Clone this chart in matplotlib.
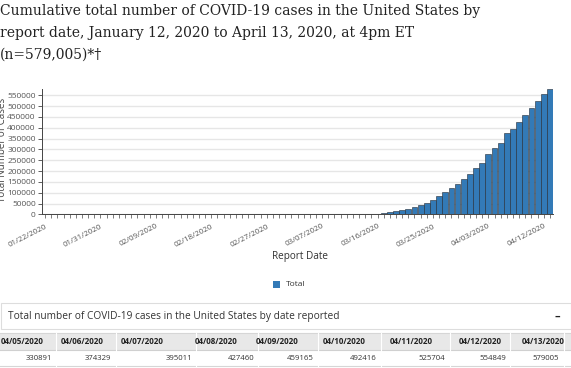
import matplotlib
matplotlib.use("Agg")
import matplotlib.pyplot as plt
from matplotlib.patches import Rectangle
from matplotlib.lines import Line2D
import datetime as dt

W, H = 571, 368

# ---------------- data ----------------
start = dt.date(2020, 1, 22)
cases = [1, 1, 2, 2, 5, 5, 5, 5, 6, 7,          # 01/22 - 01/31
         8, 11, 11, 11, 12, 12, 12, 12, 12, 12,  # 02/01 - 02/10
         13, 13, 14, 14, 14, 14, 14, 14, 14, 14, # 02/11 - 02/20
         35, 35, 35, 53, 53, 59, 60, 62, 68,     # 02/21 - 02/29
         75, 100, 124, 158, 221, 319, 435, 541, 704, 994,   # 03/01 - 03/10
         1301, 1630, 2183, 2726, 3487, 4226, 7038, 10442, 15219, 19624,  # 03/11 - 03/20
         26747, 33404, 44183, 54453, 68440, 85356, 103321, 122653, 140904, 163539,  # 03/21 - 03/30
         186101, 213144, 239279, 277205, 304826,     # 03/31 - 04/04
         330891, 374329, 395011, 427460, 459165, 492416, 525704, 554849, 579005]  # 04/05 - 04/13
dates = [(start + dt.timedelta(days=i)).strftime("%m/%d/%Y") for i in range(len(cases))]
yticks = list(range(0, 550001, 50000))
label_every = 9

table_dates = ["04/05/2020", "04/06/2020", "04/07/2020", "04/08/2020", "04/09/2020",
               "04/10/2020", "04/11/2020", "04/12/2020", "04/13/2020"]
table_values = [330891, 374329, 395011, 427460, 459165, 492416, 525704, 554849, 579005]

title = ("Cumulative total number of COVID-19 cases in the United States by\n"
         "report date, January 12, 2020 to April 13, 2020, at 4pm ET\n"
         "(n=579,005)*\u2020")

# ---------------- figure ----------------
fig = plt.figure(figsize=(W / 100, H / 100), dpi=100)
fig.patch.set_facecolor("white")

def fx(x):
    return x / W

def fy(y):
    return 1 - y / H

sans = ["Open Sans", "DejaVu Sans"]

fig.text(fx(0), fy(3.5), title, ha="left", va="top", family=["DejaVu Serif"],
         fontsize=10.0, color="#222222", linespacing=1.75)

# axes
left, right, top, bottom = 42, 553, 89, 214.5
ax = fig.add_axes([fx(left), fy(bottom), fx(right - left), (bottom - top) / H])
x = list(range(len(cases)))
ax.bar(x, cases, width=0.94, color="#337ab7", edgecolor="#222a33", linewidth=0.4, zorder=3)
ax.set_xlim(-0.5, len(cases) - 0.5)
ax.set_ylim(0, max(cases))
ax.set_yticks(yticks)
ax.set_yticklabels([str(v) for v in yticks], fontsize=6, color="#555555", family=sans)
ax.set_xticks(x, minor=True)
major = x[::label_every]
ax.set_xticks(major)
ax.set_xticklabels([dates[i] for i in major], rotation=27, ha="right", rotation_mode="anchor",
                   fontsize=5.8, color="#555555", family=sans)
ax.tick_params(axis="x", which="both", length=3, width=0.6, color="#666666", pad=3)
ax.tick_params(axis="y", length=3, width=0.6, color="#444444", pad=1.5)
ax.grid(axis="y", color="#e6e6e6", linewidth=1.0, zorder=0)
for s in ["top", "right"]:
    ax.spines[s].set_visible(False)
ax.spines["left"].set_color("#444444")
ax.spines["bottom"].set_color("#444444")
ax.spines["left"].set_linewidth(0.7)
ax.spines["bottom"].set_linewidth(0.7)
ax.set_facecolor("white")

# y label (partially clipped at the left edge, as in the reference)
fig.text(fx(3), fy(150), "Total Number of Cases", rotation=90, ha="center", va="center",
         fontsize=7, color="#444444", family=sans)

# x label
fig.text(fx(300), fy(257), "Report Date", ha="center", va="center", fontsize=7.2,
         color="#333333", family=sans)

# legend
fig.patches.append(Rectangle((fx(273), fy(287.5)), fx(7), 7 / H, transform=fig.transFigure,
                             facecolor="#337ab7", edgecolor="none"))
fig.text(fx(286), fy(284), "Total", ha="left", va="center", fontsize=6, color="#333333",
         family=sans)

# panel header box
fig.patches.append(Rectangle((fx(0.5), fy(329)), fx(W - 1), 26 / H, transform=fig.transFigure,
                             facecolor="white", edgecolor="#dddddd", linewidth=0.8))
fig.text(fx(8), fy(316), "Total number of COVID-19 cases in the United States by date reported",
         ha="left", va="center", fontsize=7.3, color="#333333", family=sans)
fig.text(fx(557), fy(316), "\u2013", ha="center", va="center", fontsize=8, color="#222222",
         family=sans, fontweight="bold")

# table
fig.patches.append(Rectangle((0, fy(350)), 1, 17 / H, transform=fig.transFigure,
                             facecolor="#e8e8e8", edgecolor="none"))
for yy, c in [(333, "#d6d6d6"), (350, "#d0d0d0"), (366, "#d6d6d6")]:
    fig.lines.append(Line2D([0, 1], [fy(yy), fy(yy)], transform=fig.transFigure,
                            color=c, linewidth=0.8))
head_cx = [22, 82, 142.5, 216, 277.5, 344, 411, 480.5, 543]
val_rx = [52, 111.5, 192, 254, 314, 376.5, 445.5, 506, 559]
col_b = [56, 116, 196, 258, 318, 381, 450, 510, 564]
for b in col_b:
    fig.lines.append(Line2D([fx(b), fx(b)], [fy(366), fy(333)], transform=fig.transFigure,
                            color="#ffffff", linewidth=0.8))
for cx, d in zip(head_cx, table_dates):
    fig.text(fx(cx), fy(341.5), d, ha="center", va="center", fontsize=5.8, color="#222222",
             family=sans, fontweight="bold")
for rx, v in zip(val_rx, table_values):
    fig.text(fx(rx), fy(358), str(v), ha="right", va="center", fontsize=5.6, color="#333333",
             family=sans)

fig.savefig("out.png", dpi=100)
